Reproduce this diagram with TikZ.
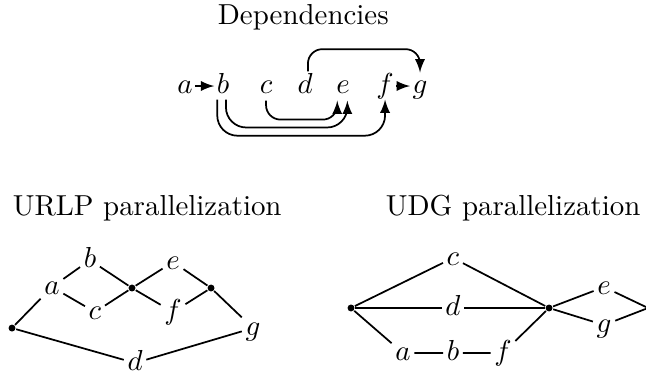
\documentclass[tikz,border=0pt]{standalone}
\usepackage{amsmath}

\begin{document}
\begin{tikzpicture}[>=latex, semithick,
  lt/.style={inner sep=1pt, text height=1.5ex, text depth=.25ex},
  ttl/.style={anchor=base west, inner sep=0pt},
  dot/.style={circle, fill, inner sep=0pt, minimum size=2.4pt},
  dep/.style={->, rounded corners=5pt}]
  \useasboundingbox (0,0) rectangle (7.855,4.621);
  \clip (0,0) rectangle (7.855,4.621);

  % Dependencies
  \node[ttl] (tdep) at (2.639,4.329) {Dependencies};
  \node[lt,inner sep=.6pt] (a) at (2.250,3.575) {\(a\)};
  \node[lt,inner sep=.6pt] (b) at (2.712,3.575) {\(b\)};
  \node[lt] (c) at (3.235,3.575) {\(c\)};
  \node[lt] (d) at (3.709,3.575) {\(d\)};
  \node[lt] (e) at (4.171,3.575) {\(e\)};
  \node[lt,inner sep=.6pt] (f) at (4.682,3.575) {\(f\)};
  \node[lt,inner sep=.6pt] (g) at (5.107,3.575) {\(g\)};
  \draw[->] (a) -- (b);
  \draw[->] (f) -- (g);
  \draw[dep] ([xshift=1pt]d.north) -- ++(0,0.27) -| (g.north);
  \draw[dep] (c.south) -- ++(0,-0.23) -| ([xshift=-2pt]e.south);
  \draw[dep,rounded corners=7pt] ([xshift=1pt]b.south) -- ++(0,-0.34) -| ([xshift=1.5pt]e.south);
  \draw[dep,rounded corners=7pt] ([xshift=-2pt]b.south) -- ++(0,-0.44) -| (f.south);

  % URLP parallelization
  \node[ttl] (turlp) at (0.146,2.006) {URLP parallelization};
  \node[dot] (u0) at (0.146,0.632) {};
  \node[dot] (u1) at (1.605,1.119) {};
  \node[dot] (u2) at (2.566,1.119) {};
  \node[lt] (ua) at (0.632,1.131) {\(a\)};
  \node[lt] (ub) at (1.094,1.459) {\(b\)};
  \node[lt] (uc) at (1.155,0.827) {\(c\)};
  \node[lt] (ud) at (1.642,0.207) {\(d\)};
  \node[lt] (ue) at (2.104,1.435) {\(e\)};
  \node[lt] (uf) at (2.104,0.827) {\(f\)};
  \node[lt] (ug) at (3.076,0.632) {\(g\)};
  \draw (u0) -- (ua) -- (ub) -- (u1) -- (ue) -- (u2) -- (ug);
  \draw (ua) -- (uc) -- (u1) -- (uf) -- (u2);
  \draw (u0) -- (ud) -- (ug);

  % UDG parallelization
  \node[ttl] (tudg) at (4.682,2.006) {UDG parallelization};
  \node[dot] (vl) at (4.268,0.876) {};
  \node[dot] (vr) at (6.676,0.876) {};
  \coordinate (vx) at (7.880,0.876);
  \node[lt] (vc) at (5.508,1.484) {\(c\)};
  \node[lt] (vd) at (5.508,0.876) {\(d\)};
  \node[lt] (va) at (4.900,0.328) {\(a\)};
  \node[lt] (vb) at (5.508,0.328) {\(b\)};
  \node[lt] (vf) at (6.116,0.328) {\(f\)};
  \node[lt] (ve) at (7.345,1.131) {\(e\)};
  \node[lt] (vg) at (7.345,0.669) {\(g\)};
  \draw (vl) -- (vc) -- (vr);
  \draw (vl) -- (vd) -- (vr);
  \draw (vl) -- (va) -- (vb) -- (vf) -- (vr);
  \draw (vr) -- (ve) -- (vx) -- (vg) -- (vr);
\end{tikzpicture}
\end{document}
